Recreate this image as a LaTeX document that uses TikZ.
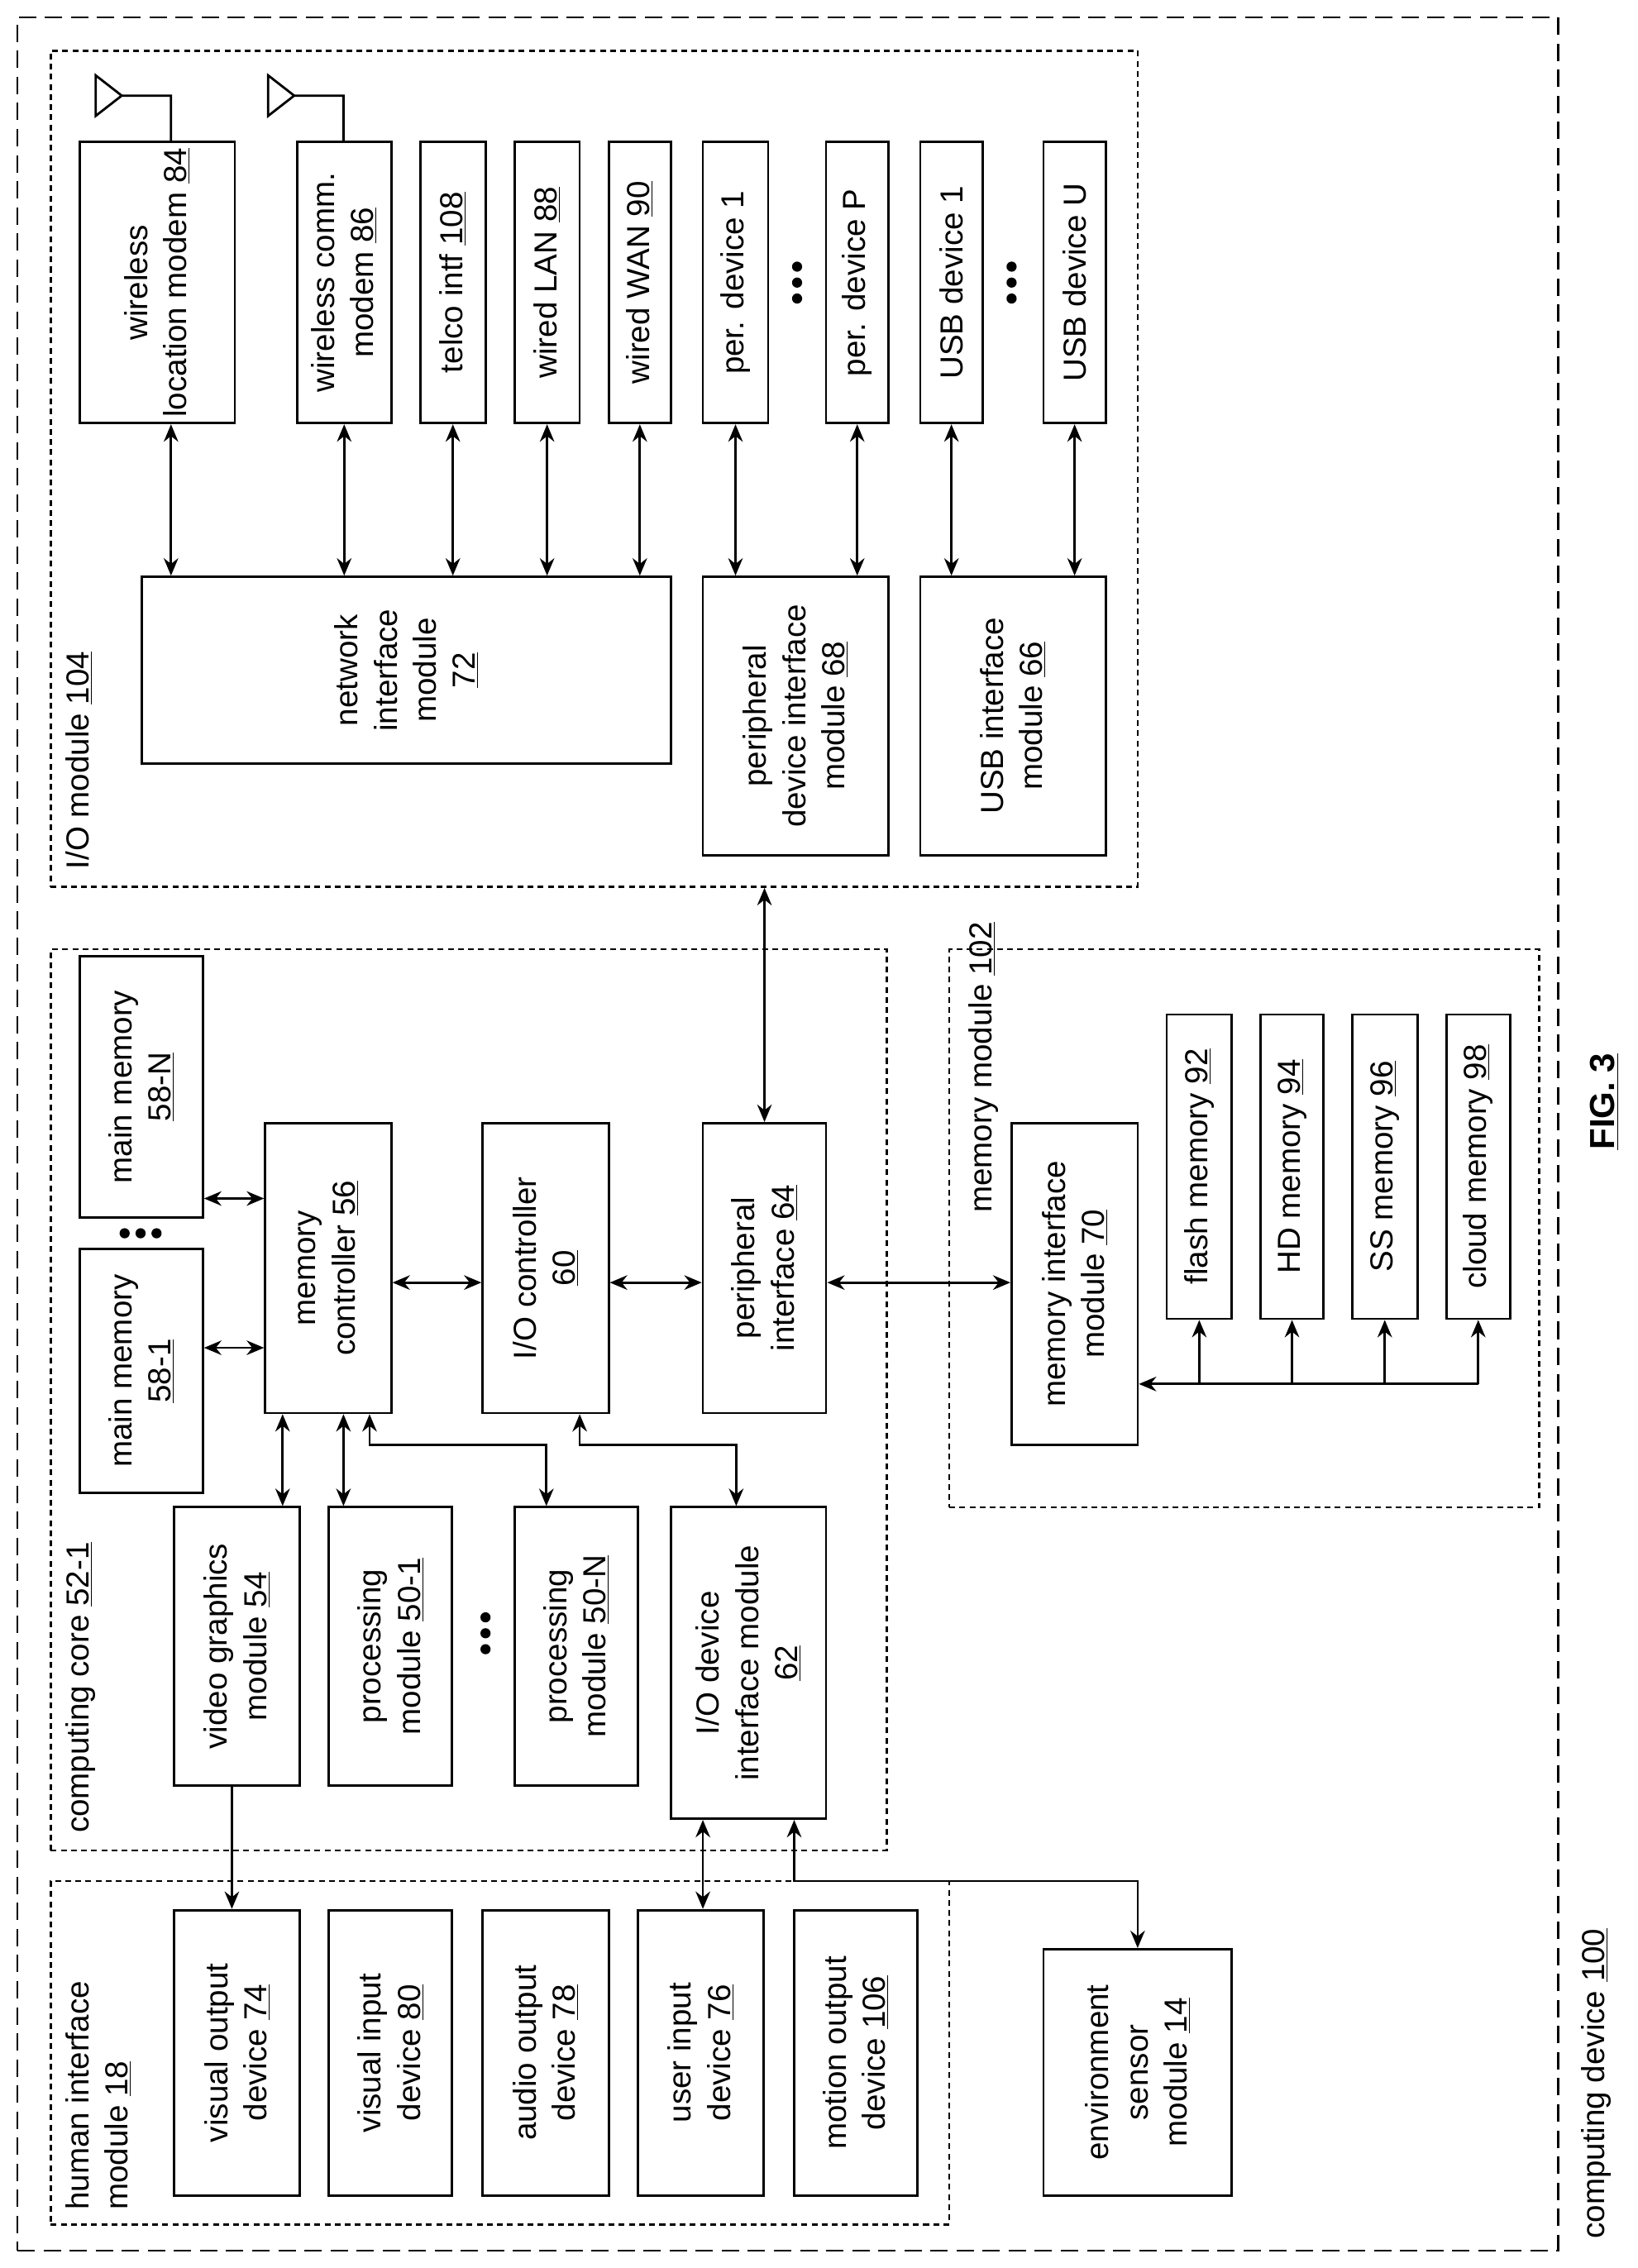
\documentclass[tikz,border=0pt]{standalone}
\usepackage{fontspec}
\setmainfont{Liberation Sans}
\usetikzlibrary{arrows.meta}
\newcommand\nm[1]{\underline{#1}}
% block: name, x1, y1, x2, y2, text (coordinates in px, y downwards)
\newcommand\blk[6]{%
  \node[box, minimum width={(#5-#3)*1pt}, minimum height={(#4-#2)*1pt}]
    (#1) at ({(#2+#4)/2},{(#3+#5)/2}) {#6};}
\newcommand\cont[6]{%
  \node[#6, minimum width={(#4-#2)*1pt}, minimum height={(#5-#3)*1pt}]
    (#1) at ({(#2+#4)/2},{(#3+#5)/2}) {};}
\tikzset{
  box/.style={draw, line width=1.6pt, rotate=90, align=center, inner sep=0pt,
    font=\fontsize{22}{27}\selectfont},
  outer/.style={draw, line width=1.6pt, dash pattern=on 12pt off 6pt, inner sep=0pt},
  inner/.style={draw, line width=1.4pt, dash pattern=on 4pt off 3pt, inner sep=0pt},
  lbl/.style={rotate=90, anchor=north west, align=left, inner sep=0pt,
    font=\fontsize{22}{27}\selectfont},
  arr/.style={line width=1.6pt, {Stealth[length=12pt,width=10pt]}-{Stealth[length=12pt,width=10pt]}},
  to/.style={line width=1.6pt, -{Stealth[length=12pt,width=10pt]}},
  bullet/.style={circle, fill, inner sep=0pt, minimum size=7pt},
  ant/.style={line width=1.6pt, line join=miter},
}
\begin{document}
\begin{tikzpicture}[x=1pt, y=-1pt]
  \useasboundingbox (0,0) rectangle (1130,1565);

  % Containers
  \cont{cd}{12}{12}{1075}{1553}{outer}
  \cont{iom}{35}{35}{785}{612}{inner}
  \cont{cc}{35}{655}{612}{1277}{inner}
  \cont{hi}{35}{1298}{655}{1535}{inner}
  \cont{mm}{655}{655}{1062}{1040}{inner}
  \node[lbl, anchor=south west] (cdl) at (1112,1545) {computing device \nm{100}};
  \node[lbl] (ioml) at (45,600) {I/O module \nm{104}};
  \node[lbl] (ccl) at (45,1265) {computing core \nm{52-1}};
  \node[lbl] (hil) at (45,1525) {human interface\\module \nm{18}};
  \node[lbl] (mml) at (668,837) {memory module \nm{102}};
  \node[rotate=90, font=\fontsize{24}{28}\selectfont\bfseries] (fig) at (1107,760) {\nm{FIG. 3}};

  % I/O module
  \blk{wlm}{55}{98}{162}{292}{wireless\\location modem \nm{84}}
  \blk{wcm}{205}{98}{270}{292}{wireless comm.\\modem \nm{86}}
  \blk{tel}{290}{98}{335}{292}{telco intf \nm{108}}
  \blk{lan}{355}{98}{400}{292}{wired LAN \nm{88}}
  \blk{wan}{420}{98}{463}{292}{wired WAN \nm{90}}
  \blk{pd1}{485}{98}{530}{292}{per. device 1}
  \blk{pdP}{570}{98}{613}{292}{per. device P}
  \blk{ud1}{635}{98}{678}{292}{USB device 1}
  \blk{udU}{720}{98}{763}{292}{USB device U}
  \blk{nim}{98}{398}{463}{527}{network\\interface\\module\\\nm{72}}
  \blk{pdim}{485}{398}{613}{590}{peripheral\\device interface\\module \nm{68}}
  \blk{uim}{635}{398}{763}{590}{USB interface\\module \nm{66}}
  \foreach \y in {184,195,206} {
    \node[bullet] at (550,\y) {};
    \node[bullet] at (698,\y) {};
  }
  % antennas
  \draw[ant] (118,0 |- wlm.east) -- (118,66) -- (84,66) -- (66,52) -- (66,80) -- (84,66);
  \draw[ant] (237,0 |- wcm.east) -- (237,66) -- (203,66) -- (185,52) -- (185,80) -- (203,66);

  \draw[arr] (118,0 |- wlm.west) -- (118,0 |- nim.east);
  \foreach \b in {wcm,tel,lan,wan} {
    \draw[arr] (\b.west) -- (\b.west |- nim.east);
  }
  \foreach \b in {pd1,pdP} {
    \draw[arr] (\b.west) -- (\b.west |- pdim.east);
  }
  \foreach \b in {ud1,udU} {
    \draw[arr] (\b.west) -- (\b.west |- uim.east);
  }

  % Computing core
  \blk{mm1}{55}{862}{140}{1030}{main memory\\\nm{58-1}}
  \blk{mmN}{55}{660}{140}{840}{main memory\\\nm{58-N}}
  \blk{mc}{183}{775}{270}{975}{memory\\controller \nm{56}}
  \blk{ioc}{333}{775}{420}{975}{I/O controller\\\nm{60}}
  \blk{pi}{485}{775}{570}{975}{peripheral\\interface \nm{64}}
  \blk{vgm}{120}{1040}{207}{1232}{video graphics\\module \nm{54}}
  \blk{pm1}{227}{1040}{312}{1232}{processing\\module \nm{50-1}}
  \blk{pmN}{355}{1040}{440}{1232}{processing\\module \nm{50-N}}
  \blk{iod}{463}{1040}{570}{1255}{I/O device\\interface module\\\nm{62}}
  \foreach \x in {86,97,108} { \node[bullet] at (\x,851) {}; }
  \foreach \y in {1116,1127,1138} { \node[bullet] at (335,\y) {}; }

  \draw[arr] (mm1.south |- 0,930) -- (mc.north |- 0,930);
  \draw[arr] (mmN.south |- 0,827) -- (mc.north |- 0,827);
  \draw[arr] (mc.south |- 0,885) -- (ioc.north |- 0,885);
  \draw[arr] (ioc.south |- 0,885) -- (pi.north |- 0,885);
  \draw[arr] (195,0 |- mc.west) -- (195,0 |- vgm.east);
  \draw[arr] (237,0 |- mc.west) -- (237,0 |- pm1.east);
  \draw[arr] (255,0 |- mc.west) -- (255,997) -| (377,0 |- pmN.east);
  \draw[arr] (400,0 |- ioc.west) -- (400,997) -| (508,0 |- iod.east);
  \draw[arr] (pi.east) -- (pi.east |- iom.south);

  % Human interface
  \blk{vod}{120}{1318}{207}{1515}{visual output\\device \nm{74}}
  \blk{vid}{227}{1318}{312}{1515}{visual input\\device \nm{80}}
  \blk{aod}{333}{1318}{420}{1515}{audio output\\device \nm{78}}
  \blk{uid}{440}{1318}{527}{1515}{user input\\device \nm{76}}
  \blk{mod}{548}{1318}{633}{1515}{motion output\\device \nm{106}}
  \blk{esm}{720}{1345}{850}{1515}{environment\\sensor\\module \nm{14}}
  \draw[to] (160,0 |- vgm.west) -- (160,0 |- vod.east);
  \draw[arr] (485,0 |- iod.west) -- (485,0 |- uid.east);
  \draw[arr] (548,0 |- iod.west) -- (548,1298) -| (esm.east);

  % Memory module
  \blk{mim}{698}{775}{785}{997}{memory interface\\module \nm{70}}
  \blk{fm}{805}{700}{850}{910}{flash memory \nm{92}}
  \blk{hd}{870}{700}{913}{910}{HD memory \nm{94}}
  \blk{ss}{933}{700}{978}{910}{SS memory \nm{96}}
  \blk{cm}{998}{700}{1042}{910}{cloud memory \nm{98}}
  \draw[arr] (pi.south |- 0,885) -- (mim.north |- 0,885);
  \draw[to] (cm.west |- 0,955) -- (mim.south |- 0,955);
  \foreach \b in {fm,hd,ss,cm} {
    \draw[to] (\b.west |- 0,955) -- (\b.west);
  }
\end{tikzpicture}
\end{document}
